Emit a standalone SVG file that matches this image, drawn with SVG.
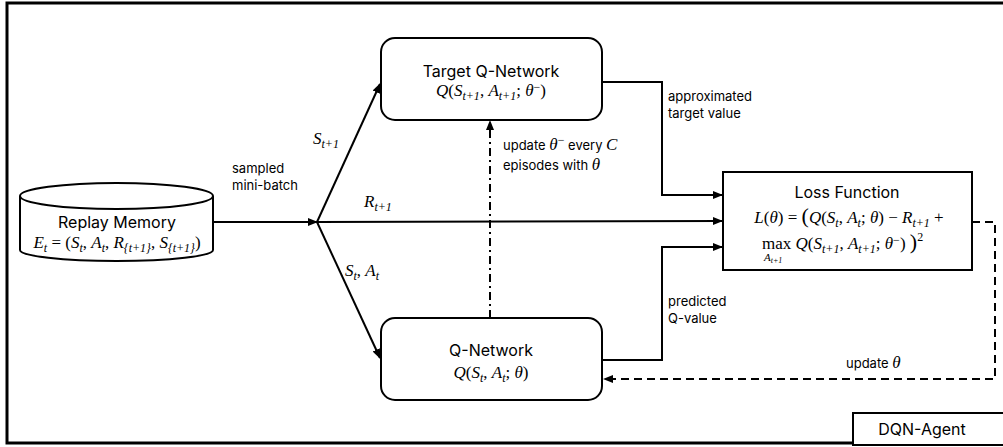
<svg xmlns="http://www.w3.org/2000/svg" width="1003" height="447" viewBox="0 0 1003 447">
  <style>
    .box { fill: #fff; stroke: #000; stroke-width: 2; }
    .ln { fill: none; stroke: #000; stroke-width: 2; }
    .dash { fill: none; stroke: #000; stroke-width: 2; stroke-dasharray: 8 5; }
    .dashdot { fill: none; stroke: #000; stroke-width: 2; stroke-dasharray: 8 4 2 4; }
    .t { font-family: Inter, "Liberation Sans", sans-serif; font-size: 13px; fill: #000; }
    .tl { font-family: Inter, "Liberation Sans", sans-serif; font-size: 16px; fill: #000; }
    .m { font-family: "Liberation Serif", "DejaVu Serif", serif; font-size: 17px; font-style: italic; fill: #000; }
    .up { font-style: normal; }
    .s { font-size: 12px; }
    .big { font-size: 22px; }
    .lim { font-size: 11px; }
    .lim2 { font-size: 8px; }
  </style>
  <defs>
    <marker id="ah" viewBox="0 0 10 10" refX="9" refY="5" markerWidth="5" markerHeight="5" orient="auto-start-reverse" markerUnits="strokeWidth">
      <path d="M0,1 L10,5 L0,9 Z" fill="#000"/>
    </marker>
  </defs>

  <!-- agent frame -->
  <g id="agent">
    <rect x="7" y="3" width="1000" height="440" fill="none" stroke="#000" stroke-width="3"/>
    <rect x="853" y="413" width="152" height="32" fill="#fff" stroke="#000" stroke-width="2"/>
    <text class="tl" x="922" y="435" text-anchor="middle">DQN-Agent</text>
  </g>

  <!-- connectors -->
  <g id="connectors">
    <line class="ln" x1="213" y1="222" x2="317" y2="222" marker-end="url(#ah)"/>
    <line class="ln" x1="317" y1="222" x2="380" y2="84" marker-end="url(#ah)"/>
    <line class="ln" x1="317" y1="222" x2="722" y2="221" marker-end="url(#ah)"/>
    <line class="ln" x1="317" y1="222" x2="380" y2="358" marker-end="url(#ah)"/>
    <line class="dashdot" x1="490" y1="318" x2="490" y2="121" marker-end="url(#ah)"/>
    <polyline class="ln" points="602,82 662,82 662,195 722,195" marker-end="url(#ah)"/>
    <polyline class="ln" points="602,360 662,360 662,247 722,247" marker-end="url(#ah)"/>
    <polyline class="dash" points="972,222 995,222 995,379 604,379" marker-end="url(#ah)"/>

    <text class="t" x="232" y="173">sampled</text>
    <text class="t" x="232" y="190">mini-batch</text>
    <text class="m" x="313" y="144">S<tspan class="s" dy="4">t+1</tspan></text>
    <text class="m" x="364" y="207">R<tspan class="s" dy="4">t+1</tspan></text>
    <text class="m" x="345" y="276">S<tspan class="s" dy="4">t</tspan><tspan dy="-4" class="up">, </tspan>A<tspan class="s" dy="4">t</tspan></text>
    <text class="t" x="503" y="150">update <tspan class="m">θ</tspan><tspan class="m s up" dy="-6">−</tspan><tspan dy="6"> every </tspan><tspan class="m">C</tspan></text>
    <text class="t" x="503" y="170">episodes with <tspan class="m">θ</tspan></text>
    <text class="t" x="668" y="101">approximated</text>
    <text class="t" x="668" y="118">target value</text>
    <text class="t" x="668" y="306">predicted</text>
    <text class="t" x="668" y="323">Q-value</text>
    <text class="t" x="846" y="368">update <tspan class="m">θ</tspan></text>
  </g>

  <!-- replay memory store -->
  <g id="replay-memory">
    <path class="box" d="M20,196 L20,250 A96.5,11 0 0 0 213,250 L213,196"/>
    <ellipse class="box" cx="116.5" cy="196" rx="96.5" ry="13"/>
    <text class="tl" x="117" y="228" text-anchor="middle">Replay Memory</text>
    <text class="m" x="117" y="248" text-anchor="middle">E<tspan class="s" dy="4">t</tspan><tspan class="up" dy="-4"> = (</tspan>S<tspan class="s" dy="4">t</tspan><tspan class="up" dy="-4">, </tspan>A<tspan class="s" dy="4">t</tspan><tspan class="up" dy="-4">, </tspan>R<tspan class="s" dy="4">{t+1}</tspan><tspan class="up" dy="-4">, </tspan>S<tspan class="s" dy="4">{t+1}</tspan><tspan class="up" dy="-4">)</tspan></text>
  </g>

  <!-- target network -->
  <g id="target-q-network">
    <rect class="box" x="381" y="38" width="221" height="82" rx="14"/>
    <text class="tl" x="491" y="77" text-anchor="middle">Target Q-Network</text>
    <text class="m" x="491" y="96" text-anchor="middle">Q<tspan class="up">(</tspan>S<tspan class="s" dy="4">t+1</tspan><tspan class="up" dy="-4">, </tspan>A<tspan class="s" dy="4">t+1</tspan><tspan class="up" dy="-4">; </tspan>θ<tspan class="s up" dy="-5">−</tspan><tspan class="up" dy="5">)</tspan></text>
  </g>

  <!-- online network -->
  <g id="q-network">
    <rect class="box" x="381" y="318" width="221" height="82" rx="14"/>
    <text class="tl" x="491" y="356" text-anchor="middle">Q-Network</text>
    <text class="m" x="491" y="378" text-anchor="middle">Q<tspan class="up">(</tspan>S<tspan class="s" dy="4">t</tspan><tspan class="up" dy="-4">, </tspan>A<tspan class="s" dy="4">t</tspan><tspan class="up" dy="-4">; </tspan>θ<tspan class="up">)</tspan></text>
  </g>

  <!-- loss -->
  <g id="loss-function">
    <rect class="box" x="723" y="172" width="249" height="98"/>
    <text class="tl" x="847" y="198" text-anchor="middle">Loss Function</text>
    <text class="m" x="849" y="223" text-anchor="middle">L<tspan class="up">(</tspan>θ<tspan class="up">) = </tspan><tspan class="up big">(</tspan>Q<tspan class="up">(</tspan>S<tspan class="s" dy="4">t</tspan><tspan class="up" dy="-4">, </tspan>A<tspan class="s" dy="4">t</tspan><tspan class="up" dy="-4">; </tspan>θ<tspan class="up">) − </tspan>R<tspan class="s" dy="4">t+1</tspan><tspan class="up" dy="-4"> +</tspan></text>
    <text class="m" x="762" y="249"><tspan class="up">max</tspan><tspan class="up"> </tspan>Q<tspan class="up">(</tspan>S<tspan class="s" dy="4">t+1</tspan><tspan class="up" dy="-4">, </tspan>A<tspan class="s" dy="4">t+1</tspan><tspan class="up" dy="-4">; </tspan>θ<tspan class="s up" dy="-5">−</tspan><tspan class="up" dy="5">) </tspan><tspan class="up big">)</tspan><tspan class="s up" dy="-8">2</tspan></text>
    <text class="m lim" x="764" y="261">A<tspan class="lim2" dy="2">t+1</tspan></text>
  </g>
</svg>
